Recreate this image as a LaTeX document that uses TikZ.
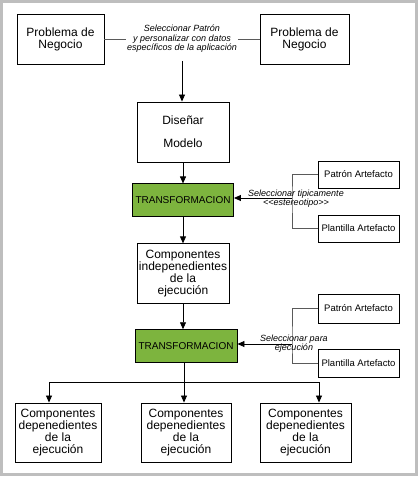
\documentclass[tikz,border=0pt]{standalone}
\usepackage{fontspec}
\setmainfont{Liberation Sans}
\usetikzlibrary{positioning, arrows.meta}
\definecolor{transgreen}{RGB}{125, 180, 62}
\definecolor{framegray}{RGB}{190, 190, 190}
\definecolor{bracketgray}{RGB}{90, 90, 90}

\begin{document}
\begin{tikzpicture}[
    x=1pt, y=-1pt,
    box/.style={
      draw, fill=white, inner sep=0pt, align=center, line width=0.9pt,
      font=\fontsize{12}{12}\selectfont
    },
    trans/.style={
      draw, fill=transgreen, inner sep=0pt, minimum width=101pt,
      minimum height=33pt, line width=0.9pt,
      font=\fontsize{10}{12}\selectfont
    },
    artefacto/.style={
      draw, fill=white, inner sep=0pt, minimum width=81pt,
      minimum height=28pt, line width=0.8pt,
      font=\fontsize{9.5}{11}\selectfont
    },
    note/.style={align=center, inner sep=1pt,
      font=\fontsize{9}{9.5}\selectfont\itshape},
    edge/.style={-{Triangle[length=7pt, width=6pt]}, line width=0.8pt},
    link/.style={line width=0.8pt, bracketgray},
]
    \useasboundingbox (0,0) rectangle (418,479);
    \draw[framegray, line width=3pt] (1.5,1.5) rectangle (416.5,474);

    % Problemas de negocio
    \node[box, minimum width=87pt, minimum height=50pt] (neg1) at (60.5,39)
      {Problema de\\Negocio};
    \node[box, minimum width=89pt, minimum height=50pt] (neg2) at (304.5,39)
      {Problema de\\Negocio};
    \node[note] (sel) at (182,39)
      {Seleccionar Patrón\\y personalizar con datos\\específicos de la aplicación};
    \draw[link] (neg1) -- (sel);
    \draw[link] (sel) -- (neg2);

    % Columna principal
    \node[box, minimum width=92pt, minimum height=60pt] (diseno) at (183,132)
      {Diseñar\\[11pt]Modelo};
    \node[trans, below=21pt of diseno] (trans1) {TRANSFORMACION};
    \node[box, minimum width=92pt, minimum height=60pt, below=26pt of trans1]
      (indep) {Componentes\\indepenedientes\\de la\\ejecución};
    \node[trans, minimum width=102pt, below=25pt of indep, xshift=3pt]
      (trans2) {TRANSFORMACION};

    \draw[edge, shorten <=7pt] (sel) -- (sel |- diseno.north);
    \draw[edge] (diseno) -- (trans1);
    \draw[edge] (trans1) -- (indep);
    \draw[edge] (indep) -- (indep |- trans2.north);

    % Artefactos 1
    \node[artefacto, minimum height=27pt] (patron1) at (358.5,174.5) {Patrón Artefacto};
    \node[artefacto, minimum height=27pt] (plantilla1) at (358.5,228.5) {Plantilla Artefacto};
    \coordinate (br1) at (292,198);
    \draw[link] (patron1.west) -| (br1) |- (plantilla1.west);
    \draw[edge] (br1) -- (br1 -| trans1.east);
    \node[note] (note1) at (296,198.5)
      {Seleccionar tipicamente\\\textless\kern0pt\textless estereotipo\textgreater\kern0pt\textgreater};

    % Artefactos 2
    \node[artefacto, minimum height=29pt] (patron2) at (358.5,308.5) {Patrón Artefacto};
    \node[artefacto] (plantilla2) at (358.5,363) {Plantilla Artefacto};
    \coordinate (br2) at (292,344);
    \draw[link] (patron2.west) -| (br2) |- (plantilla2.west);
    \draw[edge] (br2) -- (br2 -| trans2.east);
    \node[note] (note2) at (294,343.5) {Seleccionar para\\ejecución};

    % Componentes dependientes
    \node[box, minimum width=86pt, minimum height=59pt] (dep1) at (58,432.5)
      {Componentes\\depenedientes\\de la\\ejecución};
    \node[box, minimum width=90pt, minimum height=59pt] (dep2) at (186,432.5)
      {Componentes\\depenedientes\\de la\\ejecución};
    \node[box, minimum width=91pt, minimum height=59pt] (dep3) at (305.5,432.5)
      {Componentes\\depenedientes\\de la\\ejecución};

    \coordinate (split) at (184,382);
    \draw[line width=0.8pt] (split |- trans2.south) -- (split);
    \draw[edge] (split) -| ([xshift=-9pt]dep1.north);
    \draw[edge] (split) -- (split |- dep2.north);
    \draw[edge] (split) -| ([xshift=13.5pt]dep3.north);
\end{tikzpicture}
\end{document}
